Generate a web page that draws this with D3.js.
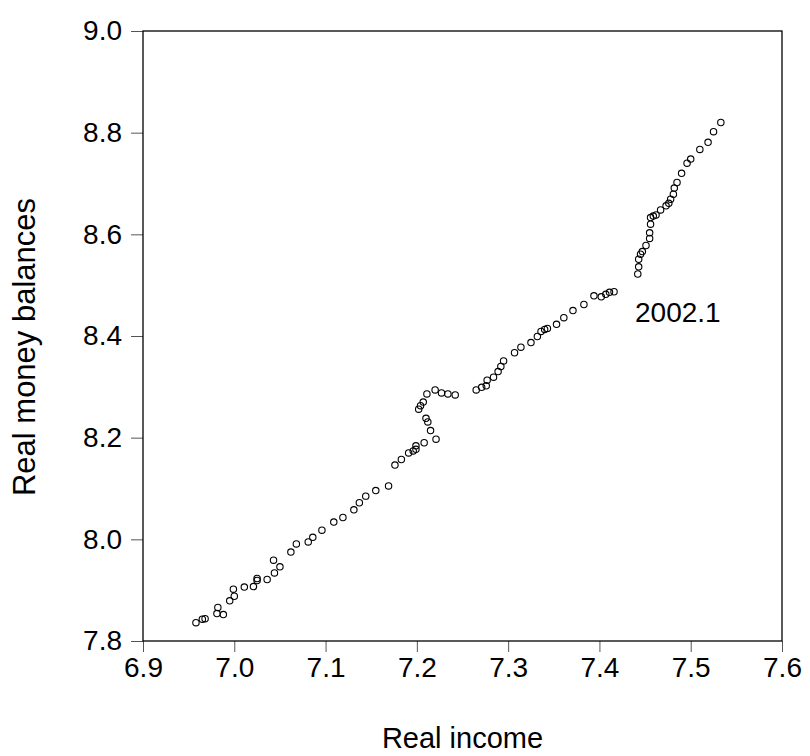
<!DOCTYPE html>
<html>
<head>
<meta charset="utf-8">
<script src="https://d3js.org/d3.v7.min.js"></script>
<style>
  body { margin: 0; background: #fff; }
  svg text { font-family: "Liberation Sans", Arial, sans-serif; fill: #000; }
  .dot { fill: none; stroke: #000; stroke-width: 1.1px; }
  .tick line { stroke: #555; }
  .domain { stroke: none; }
</style>
</head>
<body>
<div id="chart"></div>
<script>
// real income (x) and real money balances (y)
var income = [6.958, 6.965, 6.968, 6.981, 6.982, 6.988, 6.995, 7.000, 6.999, 7.011,
  7.021, 7.025, 7.025, 7.036, 7.044, 7.043, 7.050, 7.062, 7.068, 7.081,
  7.086, 7.096, 7.109, 7.119, 7.131, 7.137, 7.144, 7.155, 7.169, 7.176,
  7.183, 7.191, 7.196, 7.199, 7.199, 7.208, 7.221, 7.215, 7.212, 7.210,
  7.202, 7.204, 7.207, 7.211, 7.220, 7.227, 7.234, 7.242, 7.265, 7.271,
  7.276, 7.277, 7.284, 7.289, 7.292, 7.295, 7.307, 7.314, 7.325, 7.332,
  7.336, 7.340, 7.343, 7.353, 7.361, 7.371, 7.383, 7.394, 7.402, 7.407,
  7.411, 7.416, 7.442, 7.443, 7.443, 7.445, 7.447, 7.451, 7.455, 7.455,
  7.456, 7.456, 7.459, 7.462, 7.467, 7.473, 7.476, 7.478, 7.481, 7.482,
  7.485, 7.490, 7.496, 7.500, 7.510, 7.519, 7.525, 7.533];
var money = [7.836, 7.843, 7.844, 7.854, 7.866, 7.852, 7.879, 7.888, 7.902, 7.906,
  7.907, 7.919, 7.923, 7.921, 7.934, 7.959, 7.946, 7.975, 7.991, 7.995,
  8.004, 8.018, 8.034, 8.043, 8.058, 8.072, 8.085, 8.096, 8.105, 8.146,
  8.157, 8.170, 8.174, 8.177, 8.184, 8.190, 8.197, 8.214, 8.231, 8.238,
  8.256, 8.263, 8.270, 8.286, 8.294, 8.288, 8.286, 8.284, 8.294, 8.299,
  8.302, 8.313, 8.319, 8.330, 8.340, 8.351, 8.367, 8.378, 8.387, 8.399,
  8.409, 8.413, 8.415, 8.423, 8.436, 8.450, 8.462, 8.479, 8.477, 8.482,
  8.486, 8.487, 8.522, 8.536, 8.551, 8.561, 8.566, 8.578, 8.592, 8.603,
  8.620, 8.633, 8.636, 8.638, 8.648, 8.656, 8.661, 8.669, 8.679, 8.691,
  8.702, 8.720, 8.740, 8.748, 8.767, 8.781, 8.802, 8.820];

var xTicks = [6.9, 7.0, 7.1, 7.2, 7.3, 7.4, 7.5, 7.6];
var yTicks = [7.8, 8.0, 8.2, 8.4, 8.6, 8.8, 9.0];
var note = { label: "2002.1", x: 7.439, y: 8.428 };

var width = 810, height = 756;
var margin = { top: 31, right: 28, bottom: 115, left: 143 };

var svg = d3.select("#chart").append("svg")
    .attr("width", width)
    .attr("height", height);

var x = d3.scaleLinear().domain([6.9, 7.6]).range([margin.left, width - margin.right]);
var y = d3.scaleLinear().domain([7.8, 9.0]).range([height - margin.bottom, margin.top]);

// axes
svg.append("g")
    .attr("transform", "translate(0," + (height - margin.bottom) + ")")
    .call(d3.axisBottom(x).tickValues(xTicks).tickFormat(d3.format(".1f")).tickSize(11).tickPadding(5))
    .selectAll("text").style("font-size", "28px");

svg.append("g")
    .attr("transform", "translate(" + margin.left + ",0)")
    .call(d3.axisLeft(y).tickValues(yTicks).tickFormat(d3.format(".1f")).tickSize(12).tickPadding(9))
    .selectAll("text").style("font-size", "28px");

svg.selectAll(".domain").remove();

// frame
svg.append("rect")
    .attr("x", margin.left)
    .attr("y", margin.top)
    .attr("width", width - margin.left - margin.right)
    .attr("height", height - margin.top - margin.bottom)
    .attr("fill", "none")
    .attr("stroke", "#000")
    .attr("stroke-width", 1.3);

// points
svg.selectAll(".dot")
    .data(income)
    .enter()
    .append("circle")
    .attr("class", "dot")
    .attr("r", 3.2)
    .attr("cx", function(d) { return x(d); })
    .attr("cy", function(d, i) { return y(money[i]); });

// annotation
svg.append("text")
    .attr("x", x(note.x))
    .attr("y", y(note.y))
    .style("font-size", "28px")
    .text(note.label);

// axis titles
svg.append("text")
    .attr("x", (margin.left + width - margin.right) / 2)
    .attr("y", 748)
    .attr("text-anchor", "middle")
    .style("font-size", "29px")
    .text("Real income");

svg.append("text")
    .attr("transform", "translate(35,347) rotate(-90)")
    .attr("text-anchor", "middle")
    .style("font-size", "31px")
    .text("Real money balances");
</script>
</body>
</html>
